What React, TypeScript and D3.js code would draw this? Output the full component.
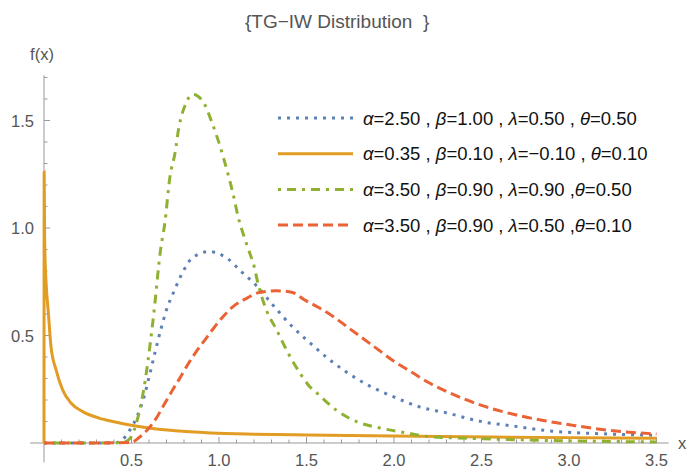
import React from 'react';
import * as d3 from 'd3';

// values, [x, f(x)]
const blueSeries: [number, number][] = [
    [0, 0], [0.2, 0], [0.4, 0], [0.43, 0.006], [0.46, 0.025], [0.49, 0.06], [0.53, 0.12], [0.57, 0.21],
    [0.606, 0.325], [0.634, 0.42], [0.67, 0.535], [0.70, 0.62], [0.74, 0.70], [0.79, 0.79],
    [0.846, 0.86], [0.943, 0.89], [1.045, 0.86], [1.13, 0.795], [1.21, 0.735], [1.31, 0.64],
    [1.42, 0.54], [1.5, 0.48], [1.62, 0.395], [1.71, 0.34], [1.85, 0.27], [2.0, 0.214],
    [2.15, 0.167], [2.3, 0.14], [2.51, 0.098], [2.68, 0.079], [2.89, 0.056], [3.12, 0.045],
    [3.3, 0.04], [3.5, 0.036]
];

const orangeSeries: [number, number][] = [
    [0, 0], [0.001, 1.26], [0.003, 1.0], [0.006, 0.86], [0.011, 0.758], [0.025, 0.605],
    [0.04, 0.448], [0.069, 0.34], [0.107, 0.246], [0.154, 0.186], [0.221, 0.146],
    [0.314, 0.116], [0.4, 0.099], [0.49, 0.084], [0.6, 0.07], [0.75, 0.057], [0.95, 0.047],
    [1.2, 0.041], [1.5, 0.037], [2.0, 0.032], [2.55, 0.028], [3.0, 0.025], [3.5, 0.022]
];

const greenSeries: [number, number][] = [
    [0, 0], [0.3, 0], [0.45, 0.003], [0.49, 0.02], [0.537, 0.12], [0.566, 0.23], [0.623, 0.57],
    [0.668, 0.91], [0.69, 1.02], [0.72, 1.24], [0.749, 1.35], [0.77, 1.465], [0.806, 1.57],
    [0.85, 1.622], [0.91, 1.586], [0.96, 1.49], [1.006, 1.38], [1.045, 1.27], [1.08, 1.16],
    [1.11, 1.05], [1.15, 0.944], [1.177, 0.88], [1.196, 0.836], [1.225, 0.735], [1.27, 0.62],
    [1.33, 0.525], [1.396, 0.417], [1.47, 0.316], [1.51, 0.27], [1.56, 0.232], [1.67, 0.153],
    [1.79, 0.098], [1.92, 0.07], [2.07, 0.047], [2.2, 0.03], [2.5, 0.02], [3.0, 0.01], [3.5, 0.005]
];

const redSeries: [number, number][] = [
    [0, 0], [0.3, 0], [0.5, 0.003], [0.54, 0.023], [0.595, 0.065], [0.645, 0.12], [0.68, 0.17],
    [0.73, 0.24], [0.777, 0.303], [0.82, 0.363], [0.87, 0.425], [0.92, 0.48], [0.97, 0.535],
    [1.02, 0.585], [1.08, 0.634], [1.16, 0.674], [1.23, 0.70], [1.33, 0.708], [1.42, 0.70],
    [1.49, 0.665], [1.57, 0.63], [1.65, 0.59], [1.72, 0.548], [1.8, 0.5], [1.9, 0.44],
    [2.0, 0.38], [2.1, 0.33], [2.2, 0.28], [2.3, 0.24], [2.4, 0.205], [2.5, 0.175],
    [2.7, 0.13], [2.87, 0.102], [3.05, 0.079], [3.22, 0.06], [3.5, 0.042]
];

const alphaLabels = ["2.50", "0.35", "3.50", "3.50"];
const betaLabels = ["1.00", "0.10", "0.90", "0.90"];
const lambdaLabels = ["0.50", "\u22120.10", "0.90", "0.50"];
const thetaLabels = ["0.50", "0.10", "0.50", "0.10"];
const thetaSeparators = [" , ", " , ", " ,", " ,"];

const seriesColors = ["#5E81B5", "#E19C24", "#8FB131", "#EB6235"];
const seriesDashes = ["3,6", "none", "3,6,9,6", "10,5"];

const xMajorTicks = [0.5, 1.0, 1.5, 2.0, 2.5, 3.0, 3.5];
const yMajorTicks = [0.5, 1.0, 1.5];

const W = 691;
const H = 468;
const FONT = "'Liberation Sans', Arial, sans-serif";

export default function App() {
    const x = d3.scaleLinear().domain([0, 3.5]).range([44, 656.5]);
    const y = d3.scaleLinear().domain([0, 1]).range([443, 228]);

    const line = d3.line<[number, number]>()
        .x(d => x(d[0]))
        .y(d => y(d[1]))
        .curve(d3.curveMonotoneX);

    const allSeries = [blueSeries, orangeSeries, greenSeries, redSeries];
    const xMinor = d3.range(1, 36).map(i => i / 10).filter(v => !xMajorTicks.some(m => Math.abs(m - v) < 1e-6));
    const yMinor = d3.range(1, 18).map(i => i / 10).filter(v => !yMajorTicks.some(m => Math.abs(m - v) < 1e-6));

    const axisColor = "#999";
    const labelColor = "#555";

    return (
        <svg width={W} height={H} style={{ position: 'absolute', left: 0, top: 0, background: '#fff' }} fontFamily={FONT}>
            <text x={245} y={28} fontSize={19} fill={labelColor}
                style={{ whiteSpace: 'pre' }}>{"{TG\u2212IW Distribution  }"}</text>

            {/* axes */}
            <line x1={x(-0.08)} x2={x(3.57)} y1={y(0)} y2={y(0)} stroke={axisColor} strokeWidth={1} />
            <line x1={x(0)} x2={x(0)} y1={y(-0.09)} y2={y(1.71)} stroke={axisColor} strokeWidth={1} />

            {xMinor.map(v => (
                <line key={'xm' + v} x1={x(v)} x2={x(v)} y1={y(0)} y2={y(0) - 3.5} stroke={axisColor} />
            ))}
            {xMajorTicks.map(v => (
                <g key={'xM' + v}>
                    <line x1={x(v)} x2={x(v)} y1={y(0)} y2={y(0) - 6} stroke={axisColor} />
                    <text x={x(v)} y={466} textAnchor="middle" fontSize={16.5} fill={labelColor}>{v.toFixed(1)}</text>
                </g>
            ))}
            {yMinor.map(v => (
                <line key={'ym' + v} x1={x(0)} x2={x(0) + 3.5} y1={y(v)} y2={y(v)} stroke={axisColor} />
            ))}
            {yMajorTicks.map(v => (
                <g key={'yM' + v}>
                    <line x1={x(0)} x2={x(0) + 6} y1={y(v)} y2={y(v)} stroke={axisColor} />
                    <text x={34} y={y(v) + 6} textAnchor="end" fontSize={16.5} fill={labelColor}>{v.toFixed(1)}</text>
                </g>
            ))}
            <text x={682} y={449} textAnchor="middle" fontSize={16.5} fill={labelColor}>x</text>
            <text x={42} y={60} textAnchor="middle" fontSize={16.5} fill={labelColor}>f(x)</text>

            {/* curves */}
            {allSeries.map((s, i) => (
                <path key={'s' + i} d={line(s) || ''} fill="none" stroke={seriesColors[i]} strokeWidth={3}
                    strokeDasharray={seriesDashes[i]} />
            ))}

            {/* legend */}
            {alphaLabels.map((a, i) => {
                const ly = 118 + i * 35.7;
                return (
                    <g key={'lg' + i}>
                        <line x1={278} x2={353} y1={ly} y2={ly} stroke={seriesColors[i]} strokeWidth={3}
                            strokeDasharray={seriesDashes[i]} />
                        <text x={363} y={ly + 6.5} fontSize={18.5} fill="#111" style={{ whiteSpace: 'pre' }}>
                            <tspan fontStyle="italic">{"\u03B1"}</tspan>{"=" + a + " , "}
                            <tspan fontStyle="italic">{"\u03B2"}</tspan>{"=" + betaLabels[i] + " , "}
                            <tspan fontStyle="italic">{"\u03BB"}</tspan>{"=" + lambdaLabels[i] + thetaSeparators[i]}
                            <tspan fontStyle="italic">{"\u03B8"}</tspan>{"=" + thetaLabels[i]}
                        </text>
                    </g>
                );
            })}
        </svg>
    );
}
